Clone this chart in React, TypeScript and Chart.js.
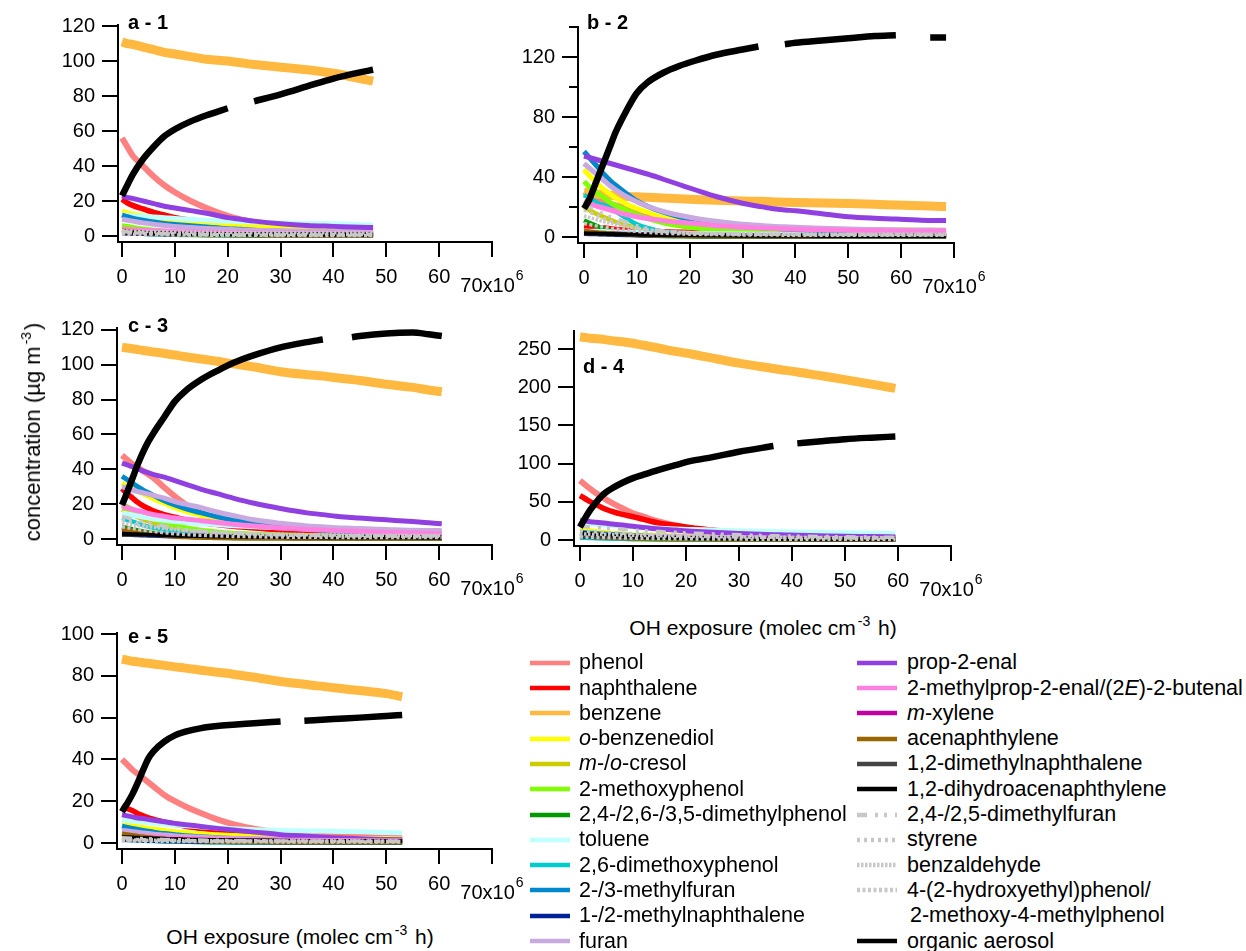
import React, { useEffect, useRef } from 'react';
import { Chart, registerables } from 'chart.js';

Chart.register(...registerables);

const FONT = '"Liberation Sans", Arial, Helvetica, sans-serif';

// ---------- series (legend order) ----------
const SERIES_LABELS = [
  'phenol', 'naphthalene', 'benzene', '_o_-benzenediol', '_m_-/_o_-cresol', '2-methoxyphenol',
  '2,4-/2,6-/3,5-dimethylphenol', 'toluene', '2,6-dimethoxyphenol', '2-/3-methylfuran',
  '1-/2-methylnaphthalene', 'furan', 'prop-2-enal', '2-methylprop-2-enal/(2_E_)-2-butenal',
  '_m_-xylene', 'acenaphthylene', '1,2-dimethylnaphthalene', '1,2-dihydroacenaphthylene',
  '2,4-/2,5-dimethylfuran', 'styrene', 'benzaldehyde', '4-(2-hydroxyethyl)phenol/|2-methoxy-4-methylphenol',
  'organic aerosol',
];
const SERIES_COLORS = [
  '#ff8080', '#ff0000', '#ffb940', '#ffff00', '#cccc00', '#80ff00', '#009900', '#c0ffff',
  '#00cccc', '#0088cc', '#002299', '#c8aae0', '#9040e0', '#ff80e0', '#c000a0', '#996600',
  '#444444', '#000000', '#c8c8c8', '#c8c8c8', '#c8c8c8', '#c8c8c8', '#000000',
];
const SERIES_DASH: number[][] = [
  [], [], [], [], [], [], [], [], [], [], [], [], [], [], [], [], [], [],
  [10, 8, 3, 6, 3, 8], [3, 4], [2.5, 1.5], [3, 2.5], [],
];
const SERIES_WIDTH = [6, 5.5, 9, 5, 4.5, 5, 4.5, 5, 4.5, 5, 4, 5, 5, 5, 4, 4.5, 4, 4, 3.5, 3.5, 3.5, 3.5, 6.5];

const X_TICKS = [0, 10, 20, 30, 40, 50, 60, 70];

// ---------- panel a - 1 ----------
const A_X = [0, 1, 2, 4, 6, 8, 10, 13, 16, 20, 22.5, 25, 30, 35, 40, 45, 47.5];
const A_PHENOL = [56, 51, 46, 40, 34, 29, 25, 20, 16, 11.5, 9.5, 8, 6, 5, 4.5, 4, 4];
const A_NAPHTHALENE = [21, 19, 17.5, 15.5, 13.5, 12, 10.5, 9, 8, 6.8, 6, 5.5, 4.5, 4, 3.5, 3, 3];
const A_BENZENE = [111, 110, 109.5, 108, 106.5, 105, 104, 102.5, 101, 100, 99, 98, 96.5, 95, 93, 90, 88.5];
const A_BENZENEDIOL = [14, 13.3, 12.6, 11.5, 10.5, 9.5, 8.7, 7.8, 7.2, 6.3, 5.9, 5.5, 5, 4.6, 4.3, 4, 3.8];
const A_CRESOL = [5, 4.6, 4.2, 3.5, 3, 2.5, 2.1, 1.7, 1.4, 1.1, 1, 0.9, 0.8, 0.7, 0.6, 0.6, 0.5];
const A_METHOXYPHENOL = [6, 5.4, 4.9, 4, 3.3, 2.7, 2.2, 1.7, 1.3, 1, 0.9, 0.8, 0.7, 0.6, 0.5, 0.5, 0.5];
const A_DIMETHYLPHENOL = [3.5, 3.1, 2.8, 2.2, 1.8, 1.4, 1.1, 0.8, 0.6, 0.5, 0.4, 0.4, 0.3, 0.3, 0.3, 0.3, 0.3];
const A_TOLUENE = [12, 11.8, 11.6, 11.2, 10.8, 10.5, 10, 9.5, 9, 8.5, 8.2, 8, 7.5, 7.2, 7, 6.5, 6.2];
const A_DIMETHOXYPHENOL = [2, 1.8, 1.6, 1.3, 1, 0.8, 0.7, 0.5, 0.4, 0.3, 0.3, 0.3, 0.2, 0.2, 0.2, 0.2, 0.2];
const A_METHYLFURAN = [12, 11, 10.2, 9, 8, 7.2, 6.6, 5.8, 5.1, 4.2, 3.8, 3.3, 2.7, 2.2, 1.9, 1.6, 1.5];
const A_METHYLNAPHTHALENE = [1.5, 1.4, 1.3, 1.1, 1, 0.9, 0.8, 0.7, 0.6, 0.5, 0.5, 0.4, 0.4, 0.3, 0.3, 0.3, 0.3];
const A_FURAN = [9.5, 9, 8.5, 7.5, 6.7, 6, 5.5, 4.8, 4.3, 3.8, 3.5, 3.3, 3, 2.8, 2.6, 2.5, 2.5];
const A_PROPENAL = [23, 22, 21.5, 20, 18.5, 17, 16, 14.5, 13, 10.5, 9.5, 8.5, 7, 6, 5.5, 5, 4.8];
const A_METHYLPROPENAL = [4, 3.8, 3.6, 3.3, 3, 2.8, 2.6, 2.3, 2.1, 1.9, 1.8, 1.7, 1.6, 1.5, 1.5, 1.4, 1.4];
const A_XYLENE = [1.5, 1.5, 1.4, 1.4, 1.3, 1.3, 1.2, 1.2, 1.1, 1.1, 1, 1, 1, 0.9, 0.9, 0.9, 0.9];
const A_ACENAPHTHYLENE = [3, 2.7, 2.4, 1.9, 1.5, 1.2, 1, 0.8, 0.6, 0.5, 0.4, 0.4, 0.3, 0.3, 0.3, 0.3, 0.3];
const A_DIMETHYLNAPHTHALENE = [1.5, 1.5, 1.5, 1.4, 1.4, 1.4, 1.3, 1.3, 1.3, 1.2, 1.2, 1.2, 1.1, 1.1, 1.1, 1, 1];
const A_DIHYDROACENAPHTHYLENE = [2.2, 2.1, 2, 1.8, 1.6, 1.5, 1.4, 1.2, 1.1, 1, 0.9, 0.9, 0.8, 0.7, 0.7, 0.6, 0.6];
const A_DIMETHYLFURAN = [2.5, 2.3, 2.1, 1.8, 1.5, 1.3, 1.1, 0.9, 0.8, 0.7, 0.6, 0.6, 0.5, 0.5, 0.5, 0.5, 0.5];
const A_STYRENE = [2, 1.9, 1.8, 1.6, 1.5, 1.4, 1.3, 1.2, 1.1, 1, 1, 0.9, 0.9, 0.8, 0.8, 0.8, 0.8];
const A_BENZALDEHYDE = [3, 2.9, 2.8, 2.6, 2.5, 2.4, 2.3, 2.2, 2.1, 2, 2, 1.9, 1.9, 1.8, 1.8, 1.8, 1.7];
const A_HYDROXYETHYLPHENOL = [1.2, 1.1, 1, 0.9, 0.8, 0.7, 0.6, 0.5, 0.5, 0.4, 0.4, 0.4, 0.3, 0.3, 0.3, 0.3, 0.3];
const A_OA = [23, 29, 35, 44, 51, 57, 61, 65.5, 69, 73, null, 77, 81, 85.5, 90, 93.5, 95];

// ---------- panel b - 2 ----------
const B_X = [0, 1, 2, 3, 4, 5, 6, 8, 10, 12, 15, 18, 21, 25, 30, 33, 35.5, 38, 40, 45, 50, 55, 59, 62, 65.5, 68.5];
const B_PHENOL = [30, 28, 26.5, 25, 23.5, 22, 21, 19, 17, 15, 12, 9.5, 7.8, 6, 4.8, 4.3, 4, 3.7, 3.5, 3, 2.8, 2.6, 2.5, 2.4, 2.3, 2.3];
const B_NAPHTHALENE = [7, 6.8, 6.5, 6.2, 6, 5.5, 5, 4.5, 4, 3.8, 3.5, 3.2, 3, 2.5, 2, 1.8, 1.6, 1.5, 1.4, 1.2, 1.1, 1, 1, 1, 0.9, 0.9];
const B_BENZENE = [30, 29.5, 29, 28.5, 28, 27.8, 27.5, 27, 26.8, 26.5, 26, 25.5, 25, 24.5, 24, 23.8, 23.5, 23.2, 23, 22.7, 22.3, 21.8, 21.3, 21, 20.6, 20.3];
const B_BENZENEDIOL = [45, 41, 37.5, 34, 31, 28.5, 26, 22, 19, 16.5, 13, 11, 9.5, 8, 6.8, 6.3, 6, 5.7, 5.5, 5.2, 5, 4.8, 4.7, 4.6, 4.5, 4.5];
const B_CRESOL = [20, 18, 16, 14.5, 13, 11.5, 10, 8, 6, 4.5, 3, 2, 1.5, 1, 0.8, 0.7, 0.7, 0.6, 0.6, 0.6, 0.5, 0.5, 0.5, 0.5, 0.5, 0.5];
const B_METHOXYPHENOL = [37, 33.5, 30.5, 28, 25.5, 23, 21, 18, 15, 12.5, 9.5, 7.5, 6, 5, 4.3, 4, 3.8, 3.6, 3.5, 3.2, 3, 2.8, 2.7, 2.6, 2.5, 2.5];
const B_DIMETHYLPHENOL = [11, 9.5, 8, 6.5, 5.3, 4.3, 3.5, 2.3, 1.5, 1, 0.6, 0.5, 0.4, 0.3, 0.3, 0.3, 0.3, 0.3, 0.3, 0.3, 0.3, 0.3, 0.3, 0.3, 0.3, 0.3];
const B_TOLUENE = [4, 3.9, 3.8, 3.7, 3.6, 3.5, 3.4, 3.2, 3, 2.9, 2.7, 2.5, 2.4, 2.2, 2, 1.9, 1.9, 1.8, 1.8, 1.7, 1.6, 1.6, 1.5, 1.5, 1.5, 1.5];
const B_DIMETHOXYPHENOL = [28, 26, 24, 22, 21, 19, 17, 12.5, 8.5, 6, 3.5, 2.3, 1.5, 1, 0.8, 0.7, 0.6, 0.6, 0.5, 0.5, 0.5, 0.5, 0.5, 0.5, 0.5, 0.5];
const B_METHYLFURAN = [57, 53, 49, 45, 41, 37.5, 34.5, 29, 24, 20.5, 16.5, 13.5, 11.5, 9, 7, 6.3, 5.8, 5.3, 5, 4, 3.3, 2.7, 2.3, 2.1, 1.9, 1.8];
const B_METHYLNAPHTHALENE = [2, 1.9, 1.8, 1.7, 1.6, 1.5, 1.4, 1.2, 1, 0.9, 0.8, 0.7, 0.6, 0.5, 0.5, 0.4, 0.4, 0.4, 0.4, 0.4, 0.3, 0.3, 0.3, 0.3, 0.3, 0.3];
const B_FURAN = [49, 46, 43, 40, 37, 34, 31.5, 27, 23.5, 20.5, 17, 14.5, 12.5, 10.5, 8.5, 7.8, 7.2, 6.8, 6.5, 5.8, 5.3, 5, 4.8, 4.7, 4.6, 4.5];
const B_PROPENAL = [54, 53, 52, 51, 50, 49, 48, 46, 44, 42, 38.5, 35, 31.5, 27, 22.5, 20.5, 19, 18, 17.5, 15.5, 13.5, 12.5, 12, 11.5, 11, 11];
const B_METHYLPROPENAL = [24, 22.5, 21, 20, 19, 18, 17, 15, 13.5, 12.3, 11, 9.8, 9, 7.5, 6.5, 6, 5.7, 5.4, 5.2, 4.8, 4.5, 4.2, 4, 3.9, 3.8, 3.8];
const B_XYLENE = [3, 2.9, 2.8, 2.7, 2.6, 2.5, 2.4, 2.2, 2, 1.9, 1.7, 1.6, 1.5, 1.4, 1.3, 1.2, 1.2, 1.1, 1.1, 1, 1, 1, 1, 0.9, 0.9, 0.9];
const B_ACENAPHTHYLENE = [4, 3.6, 3.2, 2.9, 2.6, 2.3, 2.1, 1.7, 1.4, 1.2, 1, 0.8, 0.7, 0.6, 0.5, 0.5, 0.5, 0.5, 0.5, 0.5, 0.5, 0.5, 0.5, 0.5, 0.5, 0.5];
const B_DIMETHYLNAPHTHALENE = [2, 2, 2, 1.9, 1.9, 1.9, 1.8, 1.8, 1.7, 1.7, 1.6, 1.6, 1.5, 1.5, 1.4, 1.4, 1.4, 1.3, 1.3, 1.3, 1.2, 1.2, 1.2, 1.2, 1.1, 1.1];
const B_DIHYDROACENAPHTHYLENE = [2.5, 2.4, 2.3, 2.2, 2.1, 2, 1.9, 1.7, 1.6, 1.5, 1.3, 1.2, 1.1, 1, 0.9, 0.9, 0.8, 0.8, 0.8, 0.7, 0.7, 0.7, 0.6, 0.6, 0.6, 0.6];
const B_DIMETHYLFURAN = [22, 20, 18, 16.5, 15, 13.5, 12.4, 10, 7.5, 5.8, 4, 3.2, 2.6, 2.2, 1.9, 1.8, 1.8, 1.7, 1.7, 1.6, 1.6, 1.5, 1.5, 1.5, 1.5, 1.5];
const B_STYRENE = [18, 16.5, 15, 13.5, 12, 10.8, 9.7, 7.8, 6, 4.8, 3.5, 2.8, 2.4, 2.1, 1.9, 1.8, 1.8, 1.8, 1.7, 1.7, 1.7, 1.7, 1.6, 1.6, 1.6, 1.6];
const B_BENZALDEHYDE = [14, 13, 12, 11, 10, 9.2, 8.4, 7, 5.8, 4.8, 3.8, 3.2, 2.8, 2.5, 2.2, 2.1, 2, 2, 2, 1.9, 1.9, 1.9, 1.8, 1.8, 1.8, 1.8];
const B_HYDROXYETHYLPHENOL = [9, 8.3, 7.6, 7, 6.4, 5.9, 5.4, 4.5, 3.7, 3.1, 2.5, 2.1, 1.8, 1.6, 1.4, 1.3, 1.3, 1.2, 1.2, 1.2, 1.1, 1.1, 1.1, 1.1, 1.1, 1.1];
const B_OA = [19, 25, 34, 43, 52, 61, 70, 84, 96, 103, 109.5, 114, 117.5, 121.5, 125, 127, null, 128.5, 129.5, 131, 132.5, 134, 134.5, null, 133, 133];

// ---------- panel c - 3 ----------
const C_X = [0, 1, 2, 3, 4, 5, 6, 8, 10, 12, 15, 18, 21, 25, 30, 35, 38, 40.5, 43.5, 45, 50, 55, 58, 60.5];
const C_PHENOL = [48, 45.5, 43, 41, 39, 37, 35, 29.5, 24.5, 20, 15, 11.5, 9, 7, 5, 4, 3.5, 3.2, 3, 2.8, 2.5, 2.2, 2, 2];
const C_NAPHTHALENE = [29, 26, 23.5, 21, 19, 17.5, 16, 14, 12.5, 11, 9.5, 8.3, 7.3, 6.3, 5.3, 4.7, 4.4, 4.1, 3.8, 3.7, 3.4, 3.1, 3, 2.9];
const C_BENZENE = [110, 109.6, 109.2, 108.7, 108.2, 107.8, 107.3, 106.5, 105.6, 104.6, 103.3, 102, 100.5, 98.7, 96, 94.3, 93.5, 92.5, 91.5, 91, 88.8, 87, 85.5, 84.5];
const C_BENZENEDIOL = [32, 30.5, 29, 27.5, 26, 24.5, 23, 20.5, 18, 16, 13.5, 11.5, 10, 8.3, 7, 6.2, 5.8, 5.5, 5.2, 5, 4.7, 4.4, 4.3, 4.2];
const C_CRESOL = [17, 15.5, 14, 12.5, 11.3, 10.2, 9.2, 7.5, 6, 5, 3.8, 3, 2.5, 2, 1.6, 1.4, 1.3, 1.2, 1.1, 1.1, 1, 0.9, 0.9, 0.8];
const C_METHOXYPHENOL = [20, 18.5, 17, 15.5, 14, 12.7, 11.5, 9.5, 8, 6.5, 5, 4, 3.3, 2.8, 2.3, 2, 1.9, 1.8, 1.7, 1.7, 1.5, 1.4, 1.3, 1.3];
const C_DIMETHYLPHENOL = [7, 6.3, 5.6, 5, 4.4, 3.9, 3.4, 2.6, 2, 1.5, 1, 0.7, 0.6, 0.5, 0.4, 0.4, 0.4, 0.3, 0.3, 0.3, 0.3, 0.3, 0.3, 0.3];
const C_TOLUENE = [15, 14.4, 13.8, 13.2, 12.6, 12, 11.5, 10.7, 10, 9.5, 8.8, 8.2, 7.6, 7, 6.5, 6, 5.8, 5.6, 5.4, 5.3, 5, 4.8, 4.6, 4.5];
const C_DIMETHOXYPHENOL = [12, 11, 10, 9, 8, 7.2, 6.5, 5.2, 4, 3.2, 2.3, 1.7, 1.3, 1, 0.8, 0.7, 0.6, 0.6, 0.5, 0.5, 0.5, 0.5, 0.5, 0.5];
const C_METHYLFURAN = [36, 34, 32, 30, 28, 26.5, 25, 22, 19.5, 17.5, 15, 12.8, 11, 8.8, 7, 5.8, 5, 4.5, 4, 3.6, 2.8, 2, 1.6, 1.4];
const C_METHYLNAPHTHALENE = [2.5, 2.4, 2.3, 2.1, 2, 1.9, 1.8, 1.6, 1.4, 1.2, 1, 0.9, 0.8, 0.7, 0.6, 0.5, 0.5, 0.5, 0.5, 0.5, 0.4, 0.4, 0.4, 0.4];
const C_FURAN = [30, 29, 28, 27.2, 26.5, 25.7, 25, 23.5, 21.5, 20, 18, 15.5, 13.5, 11, 9, 7.5, 7, 6.5, 6.2, 6, 5.5, 5, 4.9, 4.8];
const C_PROPENAL = [43.5, 42.5, 41.5, 40.3, 39, 38, 37, 35.5, 33.5, 31.5, 28.5, 26, 23.5, 20.5, 17.5, 15, 14, 13, 12.3, 12, 11, 10, 9.3, 8.7];
const C_METHYLPROPENAL = [19, 18, 17, 16.2, 15.5, 14.7, 14, 13, 12, 11.5, 10.5, 9.5, 8.5, 7.5, 6.3, 5.5, 5.1, 4.8, 4.5, 4.3, 3.8, 3.4, 3.1, 3];
const C_XYLENE = [4, 3.8, 3.6, 3.4, 3.2, 3, 2.9, 2.6, 2.4, 2.2, 2, 1.8, 1.6, 1.5, 1.3, 1.2, 1.1, 1.1, 1, 1, 1, 0.9, 0.9, 0.9];
const C_ACENAPHTHYLENE = [6, 5.3, 4.7, 4.1, 3.6, 3.1, 2.7, 2, 1.5, 1.1, 0.8, 0.6, 0.5, 0.4, 0.4, 0.3, 0.3, 0.3, 0.3, 0.3, 0.3, 0.3, 0.3, 0.3];
const C_DIMETHYLNAPHTHALENE = [2.5, 2.5, 2.4, 2.4, 2.3, 2.3, 2.2, 2.1, 2, 1.9, 1.8, 1.7, 1.6, 1.5, 1.4, 1.3, 1.3, 1.2, 1.2, 1.2, 1.1, 1.1, 1, 1];
const C_DIHYDROACENAPHTHYLENE = [3, 2.9, 2.8, 2.7, 2.6, 2.5, 2.4, 2.2, 2, 1.9, 1.7, 1.5, 1.4, 1.2, 1.1, 1, 0.9, 0.9, 0.9, 0.8, 0.8, 0.8, 0.7, 0.7];
const C_DIMETHYLFURAN = [13, 12.2, 11.4, 10.6, 9.9, 9.2, 8.6, 7.4, 6.4, 5.6, 4.6, 3.9, 3.4, 2.9, 2.5, 2.2, 2.1, 2, 1.9, 1.9, 1.8, 1.7, 1.7, 1.6];
const C_STYRENE = [11, 10.3, 9.7, 9.1, 8.5, 8, 7.5, 6.6, 5.8, 5.1, 4.3, 3.7, 3.2, 2.7, 2.3, 2, 1.9, 1.8, 1.7, 1.7, 1.6, 1.5, 1.5, 1.4];
const C_BENZALDEHYDE = [9, 8.6, 8.2, 7.8, 7.4, 7, 6.7, 6, 5.4, 4.9, 4.3, 3.8, 3.4, 3, 2.7, 2.5, 2.4, 2.3, 2.2, 2.2, 2.1, 2, 2, 2];
const C_HYDROXYETHYLPHENOL = [7, 6.5, 6, 5.5, 5.1, 4.7, 4.3, 3.6, 3, 2.6, 2.1, 1.8, 1.5, 1.3, 1.1, 1, 1, 0.9, 0.9, 0.9, 0.8, 0.8, 0.8, 0.8];
const C_OA = [19.5, 27, 35, 43, 50, 56, 61, 70, 79, 85, 91.5, 96.5, 101, 105.5, 110, 113, 114.5, null, 115.8, 116.5, 118, 118.5, 117.5, 116.5];

// ---------- panel d - 4 ----------
const D_X = [0, 1, 2, 3, 4, 5, 6, 8, 10, 12, 15, 18, 21, 25, 30, 36.5, 38.8, 41, 45, 50, 55, 59.5];
const D_PHENOL = [78, 72, 66.5, 61.5, 57, 52.5, 48.5, 41.5, 35, 30.5, 24, 19, 15, 11, 8, 6, 5.5, 5, 4.5, 4, 3.5, 3.2];
const D_NAPHTHALENE = [58, 54, 50, 46.5, 43, 40, 37.5, 33.5, 30.5, 27, 22, 19, 16, 13, 9.6, 6.5, 6, 5.2, 4.3, 3.5, 3, 2.5];
const D_BENZENE = [266, 265, 264, 263.5, 263, 262, 261, 259.5, 257.5, 255, 251, 247, 243.5, 238, 231.5, 224.5, 222, 220, 215.5, 210, 204, 198.5];
const D_BENZENEDIOL = [14, 13, 12, 11, 10.3, 9.6, 9, 8, 7, 6.5, 5.8, 5.3, 5, 4.6, 4.2, 3.8, 3.6, 3.5, 3.2, 3, 2.8, 2.6];
const D_CRESOL = [6, 5.5, 5, 4.6, 4.2, 3.8, 3.5, 3, 2.5, 2.2, 1.8, 1.5, 1.3, 1.1, 1, 0.8, 0.8, 0.8, 0.7, 0.7, 0.6, 0.6];
const D_METHOXYPHENOL = [5, 4.6, 4.2, 3.8, 3.5, 3.2, 2.9, 2.4, 2, 1.7, 1.4, 1.2, 1, 0.9, 0.8, 0.7, 0.7, 0.6, 0.6, 0.6, 0.5, 0.5];
const D_DIMETHYLPHENOL = [4, 3.6, 3.2, 2.9, 2.6, 2.3, 2.1, 1.7, 1.4, 1.2, 1, 0.8, 0.7, 0.6, 0.5, 0.4, 0.4, 0.4, 0.4, 0.4, 0.3, 0.3];
const D_TOLUENE = [22, 21.5, 21, 20.5, 20, 19.5, 19, 18, 17, 16.5, 15.5, 14.5, 13.8, 13, 12, 11, 10.7, 10.5, 10, 9.5, 9, 8.5];
const D_DIMETHOXYPHENOL = [3, 2.8, 2.6, 2.4, 2.2, 2, 1.9, 1.6, 1.4, 1.2, 1, 0.9, 0.8, 0.7, 0.6, 0.5, 0.5, 0.5, 0.5, 0.5, 0.5, 0.5];
const D_METHYLFURAN = [10, 9.5, 9, 8.5, 8, 7.6, 7.2, 6.5, 5.8, 5.2, 4.5, 3.9, 3.4, 2.9, 2.4, 2, 1.9, 1.8, 1.7, 1.6, 1.5, 1.4];
const D_METHYLNAPHTHALENE = [8, 7.5, 7, 6.5, 6.1, 5.7, 5.3, 4.6, 4, 3.5, 2.9, 2.4, 2, 1.7, 1.4, 1.1, 1, 1, 0.9, 0.9, 0.8, 0.8];
const D_FURAN = [7, 6.8, 6.6, 6.4, 6.2, 6, 5.8, 5.4, 5, 4.7, 4.3, 4, 3.7, 3.4, 3.1, 2.8, 2.7, 2.6, 2.5, 2.4, 2.3, 2.2];
const D_PROPENAL = [26, 25, 24, 23.3, 22.5, 21.8, 21, 19.5, 18, 16.5, 14.5, 13, 11.5, 10, 8.5, 7, 6.6, 6.2, 5.7, 5, 4.5, 4];
const D_METHYLPROPENAL = [6, 5.8, 5.6, 5.4, 5.2, 5, 4.8, 4.5, 4.2, 3.9, 3.6, 3.3, 3, 2.8, 2.5, 2.2, 2.1, 2, 1.9, 1.8, 1.7, 1.6];
const D_XYLENE = [5, 4.9, 4.8, 4.7, 4.6, 4.5, 4.4, 4.2, 4, 3.8, 3.5, 3.3, 3.1, 2.8, 2.5, 2.2, 2.1, 2, 1.9, 1.8, 1.7, 1.6];
const D_ACENAPHTHYLENE = [5, 4.6, 4.2, 3.8, 3.5, 3.2, 2.9, 2.4, 2, 1.7, 1.4, 1.1, 0.9, 0.8, 0.6, 0.5, 0.5, 0.5, 0.5, 0.5, 0.5, 0.5];
const D_DIMETHYLNAPHTHALENE = [4, 3.9, 3.8, 3.7, 3.6, 3.5, 3.4, 3.2, 3, 2.9, 2.7, 2.5, 2.4, 2.2, 2, 1.8, 1.8, 1.7, 1.7, 1.6, 1.6, 1.5];
const D_DIHYDROACENAPHTHYLENE = [9, 8.5, 8, 7.5, 7, 6.5, 6.1, 5.3, 4.6, 4, 3.3, 2.8, 2.4, 2, 1.6, 1.3, 1.2, 1.2, 1.1, 1, 1, 0.9];
const D_DIMETHYLFURAN = [18, 17.5, 17, 16.5, 16, 15.5, 15, 14, 13, 12.2, 11, 10, 9, 8, 6.8, 5.6, 5.3, 5, 4.6, 4.2, 3.8, 3.5];
const D_STYRENE = [12, 11.6, 11.2, 10.8, 10.4, 10, 9.7, 9, 8.4, 7.8, 7, 6.3, 5.7, 5, 4.3, 3.6, 3.4, 3.2, 3, 2.8, 2.6, 2.5];
const D_BENZALDEHYDE = [8, 7.8, 7.6, 7.4, 7.2, 7, 6.8, 6.5, 6.2, 5.9, 5.5, 5.1, 4.8, 4.4, 4, 3.6, 3.5, 3.4, 3.2, 3, 2.9, 2.8];
const D_HYDROXYETHYLPHENOL = [4, 3.8, 3.6, 3.4, 3.2, 3, 2.9, 2.6, 2.4, 2.2, 1.9, 1.7, 1.5, 1.4, 1.2, 1, 1, 1, 0.9, 0.9, 0.9, 0.8];
const D_OA = [17, 29, 40, 49, 57, 63, 67.5, 75, 81, 85.5, 92, 98, 103.5, 108.5, 115.5, 123, null, 126.5, 129, 132, 134, 135.5];

// ---------- panel e - 5 ----------
const E_X = [0, 1, 2, 3, 4, 5, 6, 8, 10, 12, 15, 18, 21, 25, 30, 32.3, 34.5, 40, 45, 50, 53];
const E_PHENOL = [40, 37.5, 35, 33, 31, 29, 27, 23, 20, 17.5, 14.2, 11.3, 9, 6.8, 5, 4.5, 4.2, 3.5, 3, 2.7, 2.5];
const E_NAPHTHALENE = [18, 16.5, 15.5, 14, 13, 12, 11.3, 10, 9, 8, 7, 6, 5, 4, 3, 2.8, 2.6, 2.3, 2, 1.8, 1.7];
const E_BENZENE = [88, 87.5, 87, 86.7, 86.3, 86, 85.7, 85, 84.3, 83.7, 82.7, 81.7, 80.8, 79.3, 77.3, 76.6, 76, 74.3, 73, 71.5, 70];
const E_BENZENEDIOL = [9, 8.6, 8.2, 7.8, 7.4, 7, 6.6, 6, 5.4, 5, 4.4, 4, 3.6, 3.2, 2.8, 2.7, 2.6, 2.4, 2.2, 2.1, 2];
const E_CRESOL = [4, 3.7, 3.4, 3.1, 2.8, 2.6, 2.4, 2, 1.7, 1.4, 1.1, 0.9, 0.8, 0.7, 0.6, 0.5, 0.5, 0.5, 0.5, 0.4, 0.4];
const E_METHOXYPHENOL = [5, 4.6, 4.2, 3.8, 3.4, 3.1, 2.8, 2.3, 1.8, 1.5, 1.1, 0.9, 0.7, 0.6, 0.5, 0.5, 0.5, 0.4, 0.4, 0.4, 0.4];
const E_DIMETHYLPHENOL = [2.5, 2.3, 2.1, 1.9, 1.7, 1.5, 1.3, 1, 0.8, 0.7, 0.5, 0.4, 0.4, 0.3, 0.3, 0.3, 0.3, 0.3, 0.3, 0.3, 0.3];
const E_TOLUENE = [11, 10.8, 10.5, 10.2, 10, 9.7, 9.5, 9, 8.6, 8.2, 7.7, 7.2, 6.8, 6.4, 6, 5.9, 5.8, 5.6, 5.4, 5, 4.8];
const E_DIMETHOXYPHENOL = [1.5, 1.4, 1.3, 1.2, 1.1, 1, 0.9, 0.8, 0.7, 0.6, 0.5, 0.4, 0.4, 0.3, 0.3, 0.3, 0.3, 0.3, 0.3, 0.3, 0.3];
const E_METHYLFURAN = [8, 7.5, 7, 6.5, 6, 5.6, 5.2, 4.5, 4, 3.5, 3, 2.5, 2.2, 1.8, 1.5, 1.4, 1.3, 1.2, 1.1, 1, 1];
const E_METHYLNAPHTHALENE = [1.5, 1.4, 1.3, 1.2, 1.1, 1, 0.9, 0.8, 0.7, 0.6, 0.5, 0.5, 0.4, 0.4, 0.3, 0.3, 0.3, 0.3, 0.3, 0.3, 0.3];
const E_FURAN = [6, 5.7, 5.4, 5.1, 4.8, 4.5, 4.2, 3.8, 3.4, 3.1, 2.7, 2.4, 2.2, 2, 1.8, 1.7, 1.7, 1.6, 1.5, 1.5, 1.5];
const E_PROPENAL = [13.5, 13, 12.5, 12, 11.7, 11.3, 10.9, 10.2, 9.4, 8.8, 7.9, 7, 6.2, 5.2, 4, 3.6, 3.3, 2.5, 2, 1.7, 1.5];
const E_METHYLPROPENAL = [4, 3.8, 3.6, 3.4, 3.2, 3, 2.9, 2.6, 2.4, 2.2, 2, 1.8, 1.7, 1.5, 1.4, 1.3, 1.3, 1.2, 1.1, 1.1, 1];
const E_XYLENE = [2, 1.9, 1.9, 1.8, 1.8, 1.7, 1.7, 1.6, 1.5, 1.4, 1.3, 1.2, 1.2, 1.1, 1, 1, 1, 0.9, 0.9, 0.9, 0.9];
const E_ACENAPHTHYLENE = [4.5, 4.1, 3.7, 3.3, 3, 2.7, 2.4, 1.9, 1.5, 1.2, 0.9, 0.7, 0.6, 0.5, 0.4, 0.4, 0.4, 0.4, 0.4, 0.4, 0.4];
const E_DIMETHYLNAPHTHALENE = [1.5, 1.5, 1.5, 1.4, 1.4, 1.4, 1.3, 1.3, 1.3, 1.2, 1.2, 1.2, 1.1, 1.1, 1, 1, 1, 1, 1, 1, 1];
const E_DIHYDROACENAPHTHYLENE = [2.8, 2.7, 2.6, 2.5, 2.4, 2.3, 2.2, 2, 1.8, 1.7, 1.5, 1.4, 1.3, 1.2, 1.1, 1, 1, 1, 0.9, 0.9, 0.9];
const E_DIMETHYLFURAN = [2.5, 2.4, 2.3, 2.2, 2.1, 2, 1.9, 1.7, 1.6, 1.5, 1.4, 1.3, 1.2, 1.1, 1, 1, 1, 0.9, 0.9, 0.9, 0.9];
const E_STYRENE = [2, 1.9, 1.8, 1.7, 1.6, 1.5, 1.5, 1.4, 1.3, 1.2, 1.1, 1, 1, 0.9, 0.9, 0.9, 0.9, 0.8, 0.8, 0.8, 0.8];
const E_BENZALDEHYDE = [1.5, 1.5, 1.4, 1.4, 1.3, 1.3, 1.3, 1.2, 1.2, 1.1, 1.1, 1, 1, 1, 0.9, 0.9, 0.9, 0.9, 0.9, 0.8, 0.8];
const E_HYDROXYETHYLPHENOL = [1, 1, 0.9, 0.9, 0.9, 0.8, 0.8, 0.8, 0.7, 0.7, 0.7, 0.6, 0.6, 0.6, 0.5, 0.5, 0.5, 0.5, 0.5, 0.5, 0.5];
const E_OA = [15, 19, 23.5, 29, 35, 40.5, 44, 48.5, 51.5, 53.3, 55, 56, 56.6, 57.3, 58.2, null, 58.5, 59.3, 60, 60.8, 61.3];

// ---------- y-axis ticks ----------
const A_YTICKS = [0, 20, 40, 60, 80, 100, 120];
const B_YTICKS = [0, 40, 80, 120];
const B_YMINOR = [20, 60, 100, 140];
const C_YTICKS = [0, 20, 40, 60, 80, 100, 120];
const D_YTICKS = [0, 50, 100, 150, 200, 250];
const E_YTICKS = [0, 20, 40, 60, 80, 100];

type Val = number | null;
type PanelCfg = {
  label: string; L: number; R: number; T: number; B: number;
  xMin: number; yMin: number; yMax: number; yTicks: number[]; yMinor: number[];
  xs: number[]; ys: Val[][]; dx: number; dy: number;
};

const PANELS: PanelCfg[] = [
  {
    label: 'a - 1', L: 118, R: 492, T: 25, B: 242, xMin: -0.757, yMin: -3.43, yMax: 120.6,
    yTicks: A_YTICKS, yMinor: [], xs: A_X, dx: 10, dy: -2,
    ys: [A_PHENOL, A_NAPHTHALENE, A_BENZENE, A_BENZENEDIOL, A_CRESOL, A_METHOXYPHENOL, A_DIMETHYLPHENOL,
      A_TOLUENE, A_DIMETHOXYPHENOL, A_METHYLFURAN, A_METHYLNAPHTHALENE, A_FURAN, A_PROPENAL, A_METHYLPROPENAL,
      A_XYLENE, A_ACENAPHTHYLENE, A_DIMETHYLNAPHTHALENE, A_DIHYDROACENAPHTHYLENE, A_DIMETHYLFURAN, A_STYRENE,
      A_BENZALDEHYDE, A_HYDROXYETHYLPHENOL, A_OA],
  },
  {
    label: 'b - 2', L: 578, R: 954, T: 27, B: 243, xMin: -1.135, yMin: -4, yMax: 140,
    yTicks: B_YTICKS, yMinor: B_YMINOR, xs: B_X, dx: 9, dy: -4,
    ys: [B_PHENOL, B_NAPHTHALENE, B_BENZENE, B_BENZENEDIOL, B_CRESOL, B_METHOXYPHENOL, B_DIMETHYLPHENOL,
      B_TOLUENE, B_DIMETHOXYPHENOL, B_METHYLFURAN, B_METHYLNAPHTHALENE, B_FURAN, B_PROPENAL, B_METHYLPROPENAL,
      B_XYLENE, B_ACENAPHTHYLENE, B_DIMETHYLNAPHTHALENE, B_DIHYDROACENAPHTHYLENE, B_DIMETHYLFURAN, B_STYRENE,
      B_BENZALDEHYDE, B_HYDROXYETHYLPHENOL, B_OA],
  },
  {
    label: 'c - 3', L: 117, R: 492, T: 328, B: 545, xMin: -0.946, yMin: -3.44, yMax: 121.1,
    yTicks: C_YTICKS, yMinor: [], xs: C_X, dx: 11, dy: -2,
    ys: [C_PHENOL, C_NAPHTHALENE, C_BENZENE, C_BENZENEDIOL, C_CRESOL, C_METHOXYPHENOL, C_DIMETHYLPHENOL,
      C_TOLUENE, C_DIMETHOXYPHENOL, C_METHYLFURAN, C_METHYLNAPHTHALENE, C_FURAN, C_PROPENAL, C_METHYLPROPENAL,
      C_XYLENE, C_ACENAPHTHYLENE, C_DIMETHYLNAPHTHALENE, C_DIHYDROACENAPHTHYLENE, C_DIMETHYLFURAN, C_STYRENE,
      C_BENZALDEHYDE, C_HYDROXYETHYLPHENOL, C_OA],
  },
  {
    label: 'd - 4', L: 574, R: 951, T: 331, B: 546, xMin: -1.13, yMin: -7.85, yMax: 273.6,
    yTicks: D_YTICKS, yMinor: [], xs: D_X, dx: 9, dy: 36,
    ys: [D_PHENOL, D_NAPHTHALENE, D_BENZENE, D_BENZENEDIOL, D_CRESOL, D_METHOXYPHENOL, D_DIMETHYLPHENOL,
      D_TOLUENE, D_DIMETHOXYPHENOL, D_METHYLFURAN, D_METHYLNAPHTHALENE, D_FURAN, D_PROPENAL, D_METHYLPROPENAL,
      D_XYLENE, D_ACENAPHTHYLENE, D_DIMETHYLNAPHTHALENE, D_DIHYDROACENAPHTHYLENE, D_DIMETHYLFURAN, D_STYRENE,
      D_BENZALDEHYDE, D_HYDROXYETHYLPHENOL, D_OA],
  },
  {
    label: 'e - 5', L: 117, R: 492, T: 633, B: 849, xMin: -0.946, yMin: -2.87, yMax: 100.5,
    yTicks: E_YTICKS, yMinor: [], xs: E_X, dx: 11, dy: 4,
    ys: [E_PHENOL, E_NAPHTHALENE, E_BENZENE, E_BENZENEDIOL, E_CRESOL, E_METHOXYPHENOL, E_DIMETHYLPHENOL,
      E_TOLUENE, E_DIMETHOXYPHENOL, E_METHYLFURAN, E_METHYLNAPHTHALENE, E_FURAN, E_PROPENAL, E_METHYLPROPENAL,
      E_XYLENE, E_ACENAPHTHYLENE, E_DIMETHYLNAPHTHALENE, E_DIHYDROACENAPHTHYLENE, E_DIMETHYLFURAN, E_STYRENE,
      E_BENZALDEHYDE, E_HYDROXYETHYLPHENOL, E_OA],
  },
];

const YW = 110, PT = 20, PR = 70, XH = 60;

function Panel({ cfg }: { cfg: PanelCfg }) {
  const ref = useRef<HTMLCanvasElement | null>(null);
  const left = cfg.L - YW;
  const top = cfg.T - PT;
  const width = cfg.R - cfg.L + YW + PR;
  const height = cfg.B - cfg.T + PT + XH;

  useEffect(() => {
    if (!ref.current) return;
    const deco = {
      id: 'deco',
      afterDraw(chart: any) {
        const { ctx, chartArea, scales } = chart;
        ctx.save();
        ctx.fillStyle = '#000';
        ctx.strokeStyle = '#000';
        ctx.lineWidth = 2;
        for (const v of cfg.yMinor) {
          const py = Math.round(scales.y.getPixelForValue(v));
          ctx.beginPath();
          ctx.moveTo(chartArea.left, py);
          ctx.lineTo(chartArea.left - 9, py);
          ctx.stroke();
        }
        const px = scales.x.getPixelForValue(70);
        ctx.textAlign = 'left';
        ctx.textBaseline = 'alphabetic';
        ctx.font = `20px ${FONT}`;
        const w1 = ctx.measureText('70x10').width;
        ctx.font = `14px ${FONT}`;
        const w2 = ctx.measureText('6').width;
        const sx = px - (w1 + w2 + 1) / 2;
        const by = chartArea.bottom + 50;
        ctx.font = `20px ${FONT}`;
        ctx.fillText('70x10', sx, by);
        ctx.font = `14px ${FONT}`;
        ctx.fillText('6', sx + w1 + 1, by - 12);
        ctx.font = `bold 20px ${FONT}`;
        ctx.textBaseline = 'middle';
        ctx.fillText(cfg.label, chartArea.left + cfg.dx, chartArea.top + cfg.dy);
        ctx.restore();
      },
    };
    const datasets = SERIES_LABELS.map((label, i) => ({
      label: label.replace(/_/g, '').replace('|', ' '),
      data: cfg.xs.map((x, k) => ({ x, y: cfg.ys[i][k] })),
      borderColor: SERIES_COLORS[i],
      backgroundColor: SERIES_COLORS[i],
      borderWidth: SERIES_WIDTH[i],
      borderDash: SERIES_DASH[i],
      pointRadius: 0,
      fill: false,
      spanGaps: false,
      cubicInterpolationMode: 'monotone' as const,
      order: -i,
    }));
    const tickFont = { size: 20, family: FONT };
    const chart = new Chart(ref.current, {
      type: 'line',
      data: { datasets },
      plugins: [deco],
      options: {
        responsive: false,
        animation: false,
        devicePixelRatio: 1,
        events: [],
        layout: { padding: { top: PT, right: PR, left: 0, bottom: 0 } },
        plugins: { legend: { display: false }, tooltip: { enabled: false } },
        scales: {
          x: {
            type: 'linear', min: cfg.xMin, max: 70,
            afterBuildTicks: (s: any) => { s.ticks = X_TICKS.map((v) => ({ value: v })); },
            afterFit: (s: any) => { s.height = XH; },
            ticks: {
              callback: (v: any) => (v === 70 ? '' : String(v)),
              font: tickFont, color: '#000', padding: 8, maxRotation: 0, autoSkip: false,
            },
            grid: { display: true, drawOnChartArea: false, drawTicks: true, tickLength: 15, tickWidth: 2, tickColor: '#000', color: '#000', lineWidth: 2 },
            border: { display: true, color: '#000', width: 2 },
          },
          y: {
            type: 'linear', min: cfg.yMin, max: cfg.yMax,
            afterBuildTicks: (s: any) => { s.ticks = cfg.yTicks.map((v) => ({ value: v })); },
            afterFit: (s: any) => { s.width = YW; },
            ticks: { callback: (v: any) => String(v), font: tickFont, color: '#000', padding: 7, autoSkip: false },
            grid: { display: true, drawOnChartArea: false, drawTicks: true, tickLength: 16, tickWidth: 2, tickColor: '#000', color: '#000', lineWidth: 2 },
            border: { display: true, color: '#000', width: 2 },
          },
        },
      } as any,
    });
    return () => chart.destroy();
  }, [cfg]);

  return (
    <canvas
      ref={ref}
      width={width}
      height={height}
      style={{ position: 'absolute', left, top, width, height }}
    />
  );
}

function renderLabel(text: string) {
  return text.split('_').map((part, i) =>
    i % 2 === 1 ? <i key={i}>{part}</i> : <span key={i}>{part}</span>
  );
}

function LegendSample({ i }: { i: number }) {
  const dash = SERIES_DASH[i];
  return (
    <svg width={40} height={8} style={{ display: 'block', flex: '0 0 auto' }}>
      <line x1={0} y1={4} x2={40} y2={4} stroke={SERIES_COLORS[i]} strokeWidth={4.5}
        strokeDasharray={dash.length ? dash.join(' ') : undefined} />
    </svg>
  );
}

const ROW0 = 662.7;
const ROW_STEP = 25.3;
const LEGEND_FONT = `21.5px ${FONT}`;

function LegendItem({ i, x, row, gap }: { i: number; x: number; row: number; gap: number }) {
  const parts = SERIES_LABELS[i].split('|');
  const cy = ROW0 + row * ROW_STEP;
  return (
    <>
      <div style={{ position: 'absolute', left: x, top: cy - 12, height: 24, display: 'flex', alignItems: 'center', whiteSpace: 'nowrap', font: LEGEND_FONT, color: '#000' }}>
        <LegendSample i={i} />
        <span style={{ marginLeft: gap }}>{renderLabel(parts[0])}</span>
      </div>
      {parts[1] ? (
        <div style={{ position: 'absolute', left: x + 40 + gap + 3, top: cy + ROW_STEP - 12, height: 24, display: 'flex', alignItems: 'center', whiteSpace: 'nowrap', font: LEGEND_FONT, color: '#000' }}>
          {renderLabel(parts[1])}
        </div>
      ) : null}
    </>
  );
}

const SUP: React.CSSProperties = { fontSize: 14, position: 'relative', top: -9, lineHeight: 0, margin: '0 2px' };

export default function App() {
  const col2Rows = [0, 1, 2, 3, 4, 5, 6, 7, 8, 9, 11];
  return (
    <div style={{ position: 'absolute', left: 0, top: 0, width: 1246, height: 951, background: '#fff', overflow: 'hidden', fontFamily: FONT }}>
      {PANELS.map((p) => <Panel key={p.label} cfg={p} />)}
      <div style={{ position: 'absolute', left: 33, top: 432, transform: 'translate(-50%, -50%) rotate(-90deg)', whiteSpace: 'nowrap', font: `22px ${FONT}` }}>
        concentration (µg m<span style={SUP}>-3</span>)
      </div>
      <div style={{ position: 'absolute', left: 763, top: 628, transform: 'translate(-50%, -50%)', whiteSpace: 'nowrap', font: `21px ${FONT}` }}>
        OH exposure (molec cm<span style={SUP}>-3</span> h)
      </div>
      <div style={{ position: 'absolute', left: 300, top: 937, transform: 'translate(-50%, -50%)', whiteSpace: 'nowrap', font: `21px ${FONT}` }}>
        OH exposure (molec cm<span style={SUP}>-3</span> h)
      </div>
      {Array.from({ length: 12 }, (_, k) => <LegendItem key={'c1' + k} i={k} x={530} row={k} gap={9} />)}
      {col2Rows.map((row, k) => <LegendItem key={'c2' + k} i={12 + k} x={857} row={row} gap={10} />)}
    </div>
  );
}
